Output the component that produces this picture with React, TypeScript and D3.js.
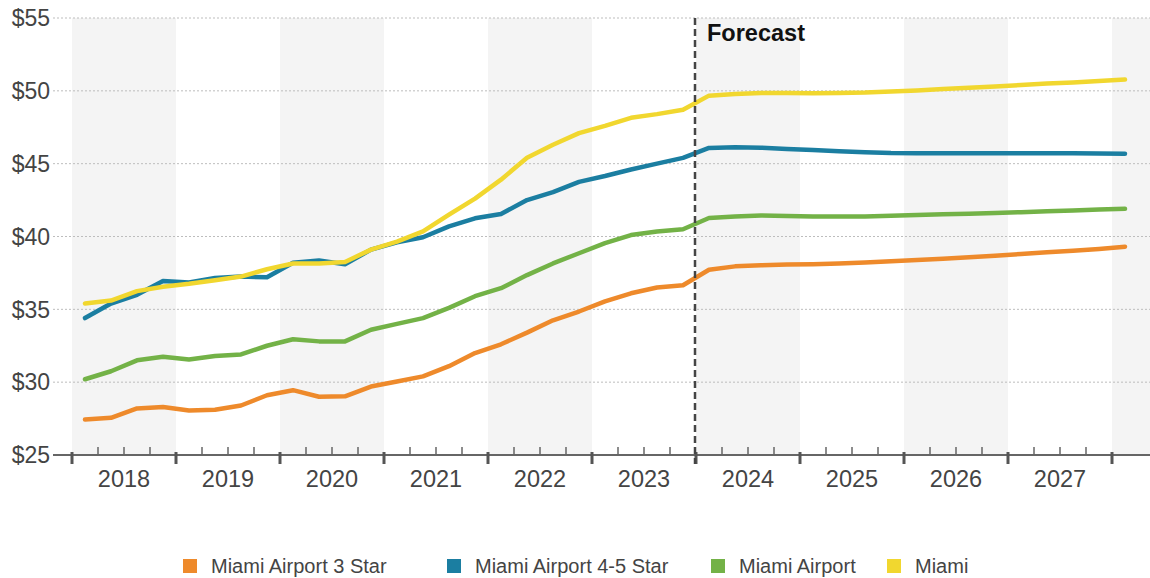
import React, { useEffect, useRef } from 'react';
import * as d3 from 'd3';

// quarterly values, 2018 Q1 .. 2028 Q1 (forecast starts 2024 Q1)
const years = [2018, 2019, 2020, 2021, 2022, 2023, 2024, 2025, 2026, 2027];
const yTicks = [25, 30, 35, 40, 45, 50, 55];

const seriesNames = ['Miami Airport 3 Star', 'Miami Airport 4-5 Star', 'Miami Airport', 'Miami'];
const seriesColors = ['#EE8A2B', '#1B7EA1', '#73B247', '#F1D72F'];

const airport3Star = [
  27.43, 27.55, 28.2, 28.3, 28.05, 28.1, 28.4, 29.1, 29.45, 29.0, 29.03, 29.7,
  30.05, 30.4, 31.1, 32.0, 32.6, 33.4, 34.25, 34.85, 35.55, 36.1, 36.5, 36.65,
  37.72, 37.95, 38.03, 38.07, 38.1, 38.15, 38.22, 38.3, 38.38, 38.48, 38.58, 38.68,
  38.8, 38.92, 39.03, 39.15, 39.3,
];
const airport45Star = [
  34.4, 35.4, 36.0, 36.95, 36.85, 37.15, 37.25, 37.2, 38.2, 38.35, 38.1, 39.1,
  39.6, 39.95, 40.7, 41.25, 41.55, 42.5, 43.05, 43.75, 44.15, 44.6, 45.0, 45.4,
  46.08, 46.12, 46.1, 46.0, 45.93, 45.85, 45.78, 45.73, 45.72, 45.72, 45.72, 45.72,
  45.72, 45.72, 45.71, 45.7, 45.68,
];
const airport = [
  30.2, 30.75, 31.5, 31.75, 31.55, 31.8, 31.9, 32.5, 32.95, 32.8, 32.8, 33.6,
  34.0, 34.4, 35.1, 35.9, 36.45, 37.35, 38.15, 38.85, 39.55, 40.1, 40.35, 40.5,
  41.27, 41.38, 41.45, 41.4, 41.38, 41.37, 41.38, 41.42, 41.47, 41.52, 41.57, 41.62,
  41.67, 41.73, 41.79, 41.85, 41.9,
];
const miami = [
  35.4, 35.6, 36.25, 36.55, 36.75, 37.0, 37.25, 37.75, 38.15, 38.15, 38.25, 39.1,
  39.65, 40.35, 41.5, 42.6, 43.9, 45.4, 46.3, 47.1, 47.6, 48.15, 48.4, 48.7,
  49.67, 49.78, 49.85, 49.85, 49.83, 49.85, 49.88, 49.95, 50.03, 50.12, 50.22, 50.3,
  50.4, 50.5, 50.58, 50.67, 50.77,
];
const forecastStart = 2024;

function drawChart(svgRef: React.RefObject<SVGSVGElement>) {
  const svg = d3.select(svgRef.current);
  svg.selectAll('*').remove();

  const w = 1150;
  const h = 578;
  const left = 53;
  const right = 1150;
  const font = '"Liberation Sans", Arial, sans-serif';

  svg.attr('width', w).attr('height', h);

  const x = d3.scaleLinear().domain([2018, 2028]).range([72, 1112]);
  const y = d3.scaleLinear().domain([25, 55]).range([455, 18]);
  const axisY = y(25);

  // alternating year bands
  const bandYears = d3.range(2018, 2029);
  svg.append('g')
    .selectAll('rect')
    .data(bandYears.filter((d) => d % 2 === 0))
    .join('rect')
    .attr('x', (d) => x(d))
    .attr('y', y(55))
    .attr('width', (d) => Math.min(x(d + 1), right) - x(d))
    .attr('height', axisY - y(55))
    .attr('fill', '#F4F4F4');

  // gridlines + y labels
  svg.append('g')
    .selectAll('line')
    .data(yTicks.filter((d) => d > 25))
    .join('line')
    .attr('x1', left)
    .attr('x2', right)
    .attr('y1', (d) => y(d))
    .attr('y2', (d) => y(d))
    .attr('stroke', '#BDBDBD')
    .attr('stroke-width', 1)
    .attr('stroke-dasharray', '2,2');

  svg.append('g')
    .selectAll('text')
    .data(yTicks)
    .join('text')
    .attr('x', 50)
    .attr('y', (d) => y(d))
    .attr('dy', '0.36em')
    .attr('text-anchor', 'end')
    .attr('font-family', font)
    .attr('font-size', 23)
    .attr('fill', '#444')
    .text((d) => `$${d}`);

  // x axis
  svg.append('line')
    .attr('x1', left)
    .attr('x2', right)
    .attr('y1', axisY)
    .attr('y2', axisY)
    .attr('stroke', '#666')
    .attr('stroke-width', 2);

  const quarterTicks = d3.range(0, 41).map((i) => 2018 + i / 4).filter((t) => t % 1 !== 0);
  svg.append('g')
    .selectAll('line')
    .data(quarterTicks)
    .join('line')
    .attr('x1', (d) => x(d))
    .attr('x2', (d) => x(d))
    .attr('y1', axisY - 8)
    .attr('y2', axisY)
    .attr('stroke', '#666')
    .attr('stroke-width', 1.5);

  svg.append('g')
    .selectAll('line')
    .data(d3.range(2018, 2029))
    .join('line')
    .attr('x1', (d) => x(d))
    .attr('x2', (d) => x(d))
    .attr('y1', axisY - 3)
    .attr('y2', axisY + 9)
    .attr('stroke', '#555')
    .attr('stroke-width', 3);

  svg.append('g')
    .selectAll('text')
    .data(years)
    .join('text')
    .attr('x', (d) => x(d + 0.5))
    .attr('y', 487)
    .attr('text-anchor', 'middle')
    .attr('font-family', font)
    .attr('font-size', 23.5)
    .attr('fill', '#444')
    .text((d) => d);

  // series
  const allSeries = [airport3Star, airport45Star, airport, miami];
  const line = d3.line<number>()
    .x((_, i) => x(2018 + (i + 0.5) / 4))
    .y((d) => y(d))
    .curve(d3.curveLinear);

  svg.append('g')
    .selectAll('path')
    .data(allSeries)
    .join('path')
    .attr('d', (d) => line(d))
    .attr('fill', 'none')
    .attr('stroke', (_, i) => seriesColors[i])
    .attr('stroke-width', 4.5)
    .attr('stroke-linejoin', 'round')
    .attr('stroke-linecap', 'round');

  // forecast marker
  svg.append('line')
    .attr('x1', x(forecastStart) - 1)
    .attr('x2', x(forecastStart) - 1)
    .attr('y1', y(55))
    .attr('y2', axisY + 9)
    .attr('stroke', '#444')
    .attr('stroke-width', 2.5)
    .attr('stroke-dasharray', '7,4');

  svg.append('text')
    .attr('x', x(forecastStart) + 11)
    .attr('y', 41)
    .attr('font-family', font)
    .attr('font-size', 23.5)
    .attr('font-weight', 'bold')
    .attr('fill', '#111')
    .text('Forecast');

  // legend
  const legendX = [183, 447, 711, 887];
  const legend = svg.append('g')
    .selectAll('g')
    .data(seriesNames)
    .join('g')
    .attr('transform', (_, i) => `translate(${legendX[i]},559)`);
  legend.append('rect')
    .attr('width', 14)
    .attr('height', 14)
    .attr('fill', (_, i) => seriesColors[i]);
  legend.append('text')
    .attr('x', 28)
    .attr('y', 14)
    .attr('font-family', '"Liberation Sans Narrow", "Liberation Sans", Arial, sans-serif')
    .attr('font-size', 20)
    .attr('fill', '#444')
    .text((d) => d);
}

const App = () => {
  const svg = useRef<SVGSVGElement>(null);

  useEffect(() => {
    drawChart(svg);
  }, [svg]);

  return (
    <div id="chart" style={{ position: 'absolute', left: 0, top: 0 }}>
      <svg ref={svg} style={{ display: 'block' }} />
    </div>
  );
};

export default App;
